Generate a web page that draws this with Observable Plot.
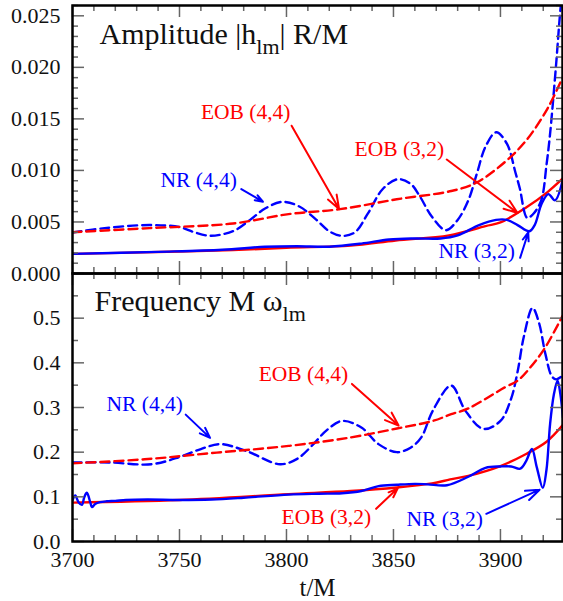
<!DOCTYPE html>
<html><head><meta charset="utf-8">
<script src="https://cdn.jsdelivr.net/npm/d3@7"></script>
<script src="https://cdn.jsdelivr.net/npm/@observablehq/plot@0.6"></script>
<style>
body{margin:0;background:#fff}
#chart{width:563px;height:601px}
#chart svg{display:block}
</style>
</head><body><div id="chart"></div>
<script>
// ---------- data (t/M, value) ----------
const ampNR44_t = [3700,3715,3736,3750,3757,3764,3770,3776,3783,3790,3798,3806,3814,3820,3826,3832,3838,3845,3852,3858,3862,3868,3874.5,3880,3885,3889,3893,3898,3903,3907,3909,3912.5,3915,3919,3921.5,3923.2,3925.9,3927.9,3929];
const ampNR44_v = [0.00398,0.0044,0.0047,0.0045,0.0040,0.00366,0.0038,0.0042,0.0052,0.0063,0.00695,0.0065,0.0052,0.0041,0.00365,0.0040,0.0058,0.0082,0.00915,0.0087,0.0076,0.0055,0.0042,0.0052,0.0071,0.0097,0.0123,0.0137,0.0126,0.0098,0.0083,0.0054,0.0057,0.00706,0.0105,0.01356,0.0200,0.0253,0.0275];
const ampEOB44_t = [3700,3736,3775,3801,3825,3851.5,3877,3888.6,3902,3912,3922,3929];
const ampEOB44_v = [0.0040,0.0044,0.00485,0.00576,0.00624,0.0072,0.0080,0.0088,0.0108,0.0129,0.0160,0.0190];
const ampNR32_t = [3700,3740,3770,3790,3805,3820,3835,3848,3860,3872,3880,3890,3898,3903,3908,3913.5,3916,3919.3,3922.4,3925.5,3929];
const ampNR32_v = [0.0019,0.0021,0.0023,0.0026,0.00265,0.0026,0.0029,0.0033,0.0034,0.0034,0.0037,0.0047,0.0052,0.0052,0.0047,0.0041,0.0047,0.0068,0.0077,0.0071,0.0090];
const ampEOB32_t = [3700,3750,3775,3800,3830,3851,3876,3893,3900,3912,3922,3929];
const ampEOB32_v = [0.0019,0.00213,0.00227,0.0025,0.0027,0.0032,0.0037,0.0046,0.00495,0.0064,0.0079,0.0092];

const frqNR44_t = [3700,3717,3737,3750.5,3760,3769,3781,3797,3805,3812,3819,3826,3835,3843,3851.6,3858,3863,3868.4,3877,3883.6,3892,3900,3905,3908,3911,3915,3918,3921,3924,3926,3929];
const frqNR44_v = [0.177,0.177,0.173,0.19,0.207,0.218,0.203,0.173,0.185,0.215,0.25,0.27,0.255,0.218,0.200,0.21,0.233,0.293,0.349,0.293,0.252,0.27,0.32,0.38,0.46,0.523,0.49,0.42,0.37,0.363,0.371];
const frqEOB44_t = [3700,3733.7,3767.4,3801,3830,3851.6,3868.4,3877,3885,3902,3908,3914,3921,3929];
const frqEOB44_v = [0.175,0.184,0.199,0.214,0.233,0.253,0.27,0.285,0.298,0.345,0.36,0.39,0.435,0.505];
const frqNR32_t = [3700,3701.3,3702.8,3704.4,3705.5,3706.7,3708.3,3709.1,3710.6,3712.9,3716,3720,3725,3735,3750,3765,3780,3801,3815,3826,3835,3843,3851.6,3860,3866,3875,3885,3893,3900,3905,3909.2,3912,3914.7,3917,3919.8,3921.5,3923.2,3925,3926.7,3928,3929.2];
const frqNR32_v = [0.092,0.103,0.088,0.082,0.099,0.109,0.088,0.077,0.084,0.088,0.09,0.091,0.093,0.094,0.093,0.094,0.098,0.105,0.107,0.108,0.113,0.124,0.127,0.129,0.128,0.126,0.145,0.165,0.168,0.168,0.163,0.18,0.207,0.166,0.12,0.16,0.263,0.33,0.36,0.33,0.278];
const frqEOB32_t = [3700,3750,3801,3830,3851.6,3868,3876.5,3885,3900,3912,3921.7,3929];
const frqEOB32_v = [0.087,0.093,0.106,0.113,0.121,0.13,0.139,0.147,0.169,0.196,0.224,0.26];

// ticks
const xMajor = [3700,3750,3800,3850,3900];
const xMinor = d3.range(3710, 3930, 10).filter(d => d % 50 !== 0);
const ampMajor = [0,0.005,0.010,0.015,0.020,0.025];
const ampMinor = d3.range(1, 27).map(i => i/1000).filter((d,i) => (i+1) % 5 !== 0);
const frqMajor = [0,0.1,0.2,0.3,0.4,0.5];
const frqMinor = [0.05,0.15,0.25,0.35,0.45,0.55];

// annotations
const ampLabels = [
  {text:"EOB (4,4)", t:3760, v:0.0150, c:"red"},
  {text:"EOB (3,2)", t:3831.8, v:0.01138, c:"red"},
  {text:"NR (4,4)", t:3741.1, v:0.00842, c:"blue"},
  {text:"NR (3,2)", t:3871, v:0.00148, c:"blue"}
];
const ampArrows = [
  {t1:3802.4, v1:0.01434, t2:3824.6, v2:0.00625, c:"red"},
  {t1:3874.9, v1:0.01106, t2:3908.0, v2:0.00587, c:"red"},
  {t1:3778.9, v1:0.00819, t2:3789.0, v2:0.00696, c:"blue"},
  {t1:3909.2, v1:0.00152, t2:3913.0, v2:0.00398, c:"blue"}
];
const frqLabels = [
  {text:"EOB (4,4)", t:3787, v:0.3586, c:"red"},
  {text:"NR (4,4)", t:3715.9, v:0.293, c:"blue"},
  {text:"EOB (3,2)", t:3797.7, v:0.0396, c:"red"},
  {text:"NR (3,2)", t:3856.1, v:0.0358, c:"blue"}
];
const frqArrows = [
  {t1:3830.6, v1:0.3528, t2:3852.4, v2:0.2595, c:"red"},
  {t1:3752.9, v1:0.284, t2:3764.3, v2:0.232, c:"blue"},
  {t1:3841.9, v1:0.0731, t2:3852.0, v2:0.119, c:"red"},
  {t1:3893.4, v1:0.062, t2:3918.3, v2:0.116, c:"blue"}
];

const zip = (t, v) => t.map((d, i) => ({t: d, v: v[i]}));
const FONT = "Liberation Serif";
const TICK = "#666";

function curves(series) {
  return series.map(([t, v, color, dashed]) => Plot.line(zip(t, v), {
    x: "t", y: "v", stroke: color, strokeWidth: 2.4, curve: "catmull-rom",
    strokeDasharray: dashed ? "9,5" : null, clip: true
  }));
}
function frameTicks(plotW, plotH, yMaj, yMin) {
  return [
    Plot.tickX(xMajor, {x: d => d, stroke: TICK, strokeWidth: 1.5, insetTop: plotH - 12}),
    Plot.tickX(xMinor, {x: d => d, stroke: TICK, strokeWidth: 1.5, insetTop: plotH - 6}),
    Plot.tickX(xMajor, {x: d => d, stroke: TICK, strokeWidth: 1.5, insetBottom: plotH - 12}),
    Plot.tickX(xMinor, {x: d => d, stroke: TICK, strokeWidth: 1.5, insetBottom: plotH - 6}),
    Plot.tickY(yMaj, {y: d => d, stroke: TICK, strokeWidth: 1.5, insetRight: plotW - 12}),
    Plot.tickY(yMin, {y: d => d, stroke: TICK, strokeWidth: 1.5, insetRight: plotW - 6}),
    Plot.tickY(yMaj, {y: d => d, stroke: TICK, strokeWidth: 1.5, insetLeft: plotW - 12}),
    Plot.tickY(yMin, {y: d => d, stroke: TICK, strokeWidth: 1.5, insetLeft: plotW - 6})
  ];
}
function annotations(labels, arrows) {
  return [
    Plot.text(labels, {x: "t", y: "v", text: "text", fill: "c", textAnchor: "start", lineAnchor: "bottom", fontSize: 21.5}),
    Plot.arrow(arrows, {x1: "t1", y1: "v1", x2: "t2", y2: "v2", stroke: "c", strokeWidth: 2, headLength: 11, headAngle: 40})
  ];
}

const W = 563, ML = 72, MR = 1;
const plotW = W - ML - MR;

// ---------- top panel ----------
const topH = 273, topMT = 5, topMB = 0;
const ampPlot = Plot.plot({
  width: W, height: topH, marginTop: topMT, marginBottom: topMB, marginLeft: ML, marginRight: MR,
  x: {domain: [3700, 3929], axis: null},
  y: {domain: [0, 0.026]},
  color: {type: "identity"},
  style: {fontFamily: FONT, background: "white", overflow: "visible"},
  marks: [
    ...curves([
      [ampEOB32_t, ampEOB32_v, "red", false],
      [ampNR32_t, ampNR32_v, "blue", false],
      [ampNR44_t, ampNR44_v, "blue", true],
      [ampEOB44_t, ampEOB44_v, "red", true]
    ]),
    ...frameTicks(plotW, topH - topMT - topMB, ampMajor, ampMinor),
    Plot.axisY(ampMajor, {tickSize: 0, tickPadding: 12, tickFormat: d3.format(".3f"), fontSize: 22, label: null, fill: "#111"}),
    ...annotations(ampLabels, ampArrows),
    Plot.text(["Amplitude |h"], {text: d => d, frameAnchor: "top-left", dx: 27, dy: 38.3, textAnchor: "start", lineAnchor: "bottom", fontSize: 30, fill: "#111"}),
    Plot.frame({stroke: "black", strokeWidth: 2.5})
  ]
});

// ---------- bottom panel ----------
const botH = 328, botMT = 0, botMB = 60;
const frqPlot = Plot.plot({
  width: W, height: botH, marginTop: botMT, marginBottom: botMB, marginLeft: ML, marginRight: MR,
  x: {domain: [3700, 3929]},
  y: {domain: [0, 0.6]},
  color: {type: "identity"},
  style: {fontFamily: FONT, background: "white", overflow: "visible"},
  marks: [
    ...curves([
      [frqEOB32_t, frqEOB32_v, "red", false],
      [frqNR32_t, frqNR32_v, "blue", false],
      [frqNR44_t, frqNR44_v, "blue", true],
      [frqEOB44_t, frqEOB44_v, "red", true]
    ]),
    ...frameTicks(plotW, botH - botMT - botMB, frqMajor, frqMinor),
    Plot.axisY(frqMajor, {tickSize: 0, tickPadding: 12, tickFormat: d3.format(".1f"), fontSize: 22, label: null, fill: "#111"}),
    Plot.axisX(xMajor, {tickSize: 0, tickPadding: 10, tickFormat: d => String(d), fontSize: 22, label: null, fill: "#111"}),
    Plot.text(["t/M"], {text: d => d, frameAnchor: "bottom", dy: 54, lineAnchor: "bottom", fontSize: 25, fill: "#111"}),
    ...annotations(frqLabels, frqArrows),
    Plot.text(["Frequency M ω"], {text: d => d, frameAnchor: "top-left", dx: 22, dy: 37, textAnchor: "start", lineAnchor: "bottom", fontSize: 30, fill: "#111"}),
    Plot.frame({stroke: "black", strokeWidth: 2.5})
  ]
});

const chart = document.getElementById("chart");
chart.append(ampPlot, frqPlot);

// subscripts in the panel titles
const NS = "http://www.w3.org/2000/svg";
function addSub(svg, base, sub, rest, dy) {
  const t = Array.from(svg.querySelectorAll("text")).find(e => e.textContent === base);
  if (!t) return;
  const s = document.createElementNS(NS, "tspan");
  s.setAttribute("dy", dy); s.setAttribute("font-size", "22"); s.textContent = sub;
  t.appendChild(s);
  if (rest) {
    const r = document.createElementNS(NS, "tspan");
    r.setAttribute("dy", -dy); r.textContent = rest;
    t.appendChild(r);
  }
}
addSub(ampPlot, "Amplitude |h", "lm", "| R/M", 10);
addSub(frqPlot, "Frequency M ω", "lm", null, 10);

// serif typeface on every text of both panels
for (const svg of [ampPlot, frqPlot]) {
  svg.setAttribute("font-family", FONT);
  svg.querySelectorAll("text").forEach(e => e.style.setProperty("font-family", FONT));
}
</script>
</body></html>
